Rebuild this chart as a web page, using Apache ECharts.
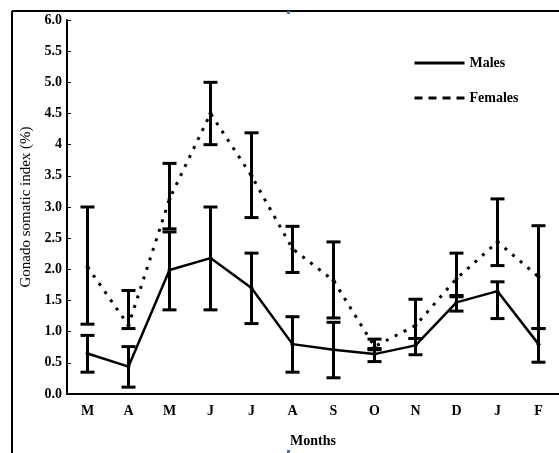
<!DOCTYPE html>
<html>
<head>
<meta charset="utf-8">
<style>
  html, body { margin: 0; padding: 0; background: #fff; }
  #chart { width: 559px; height: 453px; }
</style>
<script src="https://cdn.jsdelivr.net/npm/echarts@6/dist/echarts.min.js"></script>
</head>
<body>
<div id="chart"></div>
<script>
// months Mar..Feb
const months = ['M', 'A', 'M', 'J', 'J', 'A', 'S', 'O', 'N', 'D', 'J', 'F']
const yTicks = ['0.0', '0.5', '1.0', '1.5', '2.0', '2.5', '3.0', '3.5', '4', '4.5', '5.0', '5.5', '6.0']

const malesMean = [0.65, 0.44, 1.99, 2.18, 1.70, 0.80, 0.71, 0.64, 0.78, 1.47, 1.65, 0.80]
const malesHigh = [0.94, 0.76, 2.60, 3.00, 2.26, 1.24, 1.15, 0.73, 0.89, 1.58, 1.80, 1.05]
const malesLow = [0.35, 0.11, 1.35, 1.35, 1.13, 0.35, 0.26, 0.52, 0.63, 1.33, 1.21, 0.51]

const femalesMean = [2.04, 1.10, 3.13, 4.50, 3.50, 2.33, 1.82, 0.76, 1.10, 1.85, 2.44, 1.88]
const femalesHigh = [3.00, 1.66, 3.70, 5.00, 4.19, 2.69, 2.44, 0.88, 1.52, 2.26, 3.13, 2.70]
const femalesLow = [1.12, 1.05, 2.65, 4.00, 2.83, 1.95, 1.22, 0.71, 0.89, 1.56, 2.06, 1.05]

const font = '"Liberation Serif", "Times New Roman", serif'

function errBars(high, low) {
  return months.map((m, i) => [i, low[i], high[i]])
}

function renderErr(params, api) {
  const x = api.value(0)
  const lo = api.coord([x, api.value(1)])
  const hi = api.coord([x, api.value(2)])
  const w = 7
  const style = {stroke: '#000', lineWidth: 3, fill: null}
  return {
    type: 'group',
    children: [
      {type: 'line', shape: {x1: hi[0], y1: hi[1], x2: lo[0], y2: lo[1]}, style},
      {type: 'line', shape: {x1: hi[0] - w, y1: hi[1], x2: hi[0] + w, y2: hi[1]}, style},
      {type: 'line', shape: {x1: lo[0] - w, y1: lo[1], x2: lo[0] + w, y2: lo[1]}, style}
    ]
  }
}

const chart = echarts.init(document.getElementById('chart'))
chart.setOption({
  animation: false,
  backgroundColor: '#fff',
  grid: {left: 67, right: 0, top: 20, bottom: 57},
  legend: {
    orient: 'vertical',
    left: 408,
    top: 51,
    itemWidth: 50,
    itemHeight: 14,
    itemGap: 21,
    itemStyle: {opacity: 0},
    textStyle: {fontFamily: font, fontWeight: 'bold', fontSize: 14, color: '#000'},
    data: [
      {name: 'Males', lineStyle: {width: 3}},
      {name: 'Females', lineStyle: {width: 3, type: [8, 6]}}
    ]
  },
  xAxis: {
    type: 'category',
    data: months,
    name: 'Months',
    nameLocation: 'middle',
    nameGap: 40,
    nameTextStyle: {fontFamily: font, fontWeight: 'bold', fontSize: 14, color: '#000'},
    axisLine: {lineStyle: {color: '#000', width: 2}},
    axisTick: {alignWithLabel: true, length: 5, lineStyle: {color: '#000', width: 1}},
    axisLabel: {fontFamily: font, fontWeight: 'bold', fontSize: 14, color: '#000', margin: 10}
  },
  yAxis: {
    type: 'value',
    min: 0,
    max: 6,
    interval: 0.5,
    name: 'Gonado somatic index (%)',
    nameLocation: 'middle',
    nameGap: 30,
    nameTextStyle: {fontFamily: font, fontSize: 15, color: '#000'},
    axisLine: {show: true, lineStyle: {color: '#000', width: 2}},
    axisTick: {show: true, inside: true, length: 4, lineStyle: {color: '#000'}},
    splitLine: {show: false},
    axisLabel: {
      fontFamily: font, fontWeight: 'bold', fontSize: 14, color: '#000', margin: 5,
      formatter: v => yTicks[Math.round(v * 2)]
    }
  },
  series: [
    {
      name: 'Males',
      type: 'line',
      data: malesMean,
      symbol: 'circle',
      symbolSize: 4,
      itemStyle: {color: '#000'},
      lineStyle: {color: '#000', width: 2.5},
      z: 3
    },
    {
      name: 'Females',
      type: 'line',
      data: femalesMean,
      symbol: 'circle',
      symbolSize: 4,
      itemStyle: {color: '#000'},
      lineStyle: {color: '#000', width: 3, type: [3, 7]},
      z: 3
    },
    {
      type: 'custom',
      data: errBars(malesHigh, malesLow),
      renderItem: renderErr,
      z: 4
    },
    {
      type: 'custom',
      data: errBars(femalesHigh, femalesLow),
      renderItem: renderErr,
      z: 4
    }
  ],
  graphic: [
    {type: 'line', shape: {x1: 12, y1: 11, x2: 559, y2: 11}, style: {stroke: '#000', lineWidth: 2}},
    {type: 'line', shape: {x1: 12, y1: 11, x2: 12, y2: 453}, style: {stroke: '#000', lineWidth: 2}},
    {type: 'rect', shape: {x: 287, y: 11, width: 3, height: 3}, style: {fill: '#4a6fa5'}},
    {type: 'rect', shape: {x: 287, y: 450, width: 3, height: 3}, style: {fill: '#4a6fa5'}}
  ]
})
</script>
</body>
</html>
